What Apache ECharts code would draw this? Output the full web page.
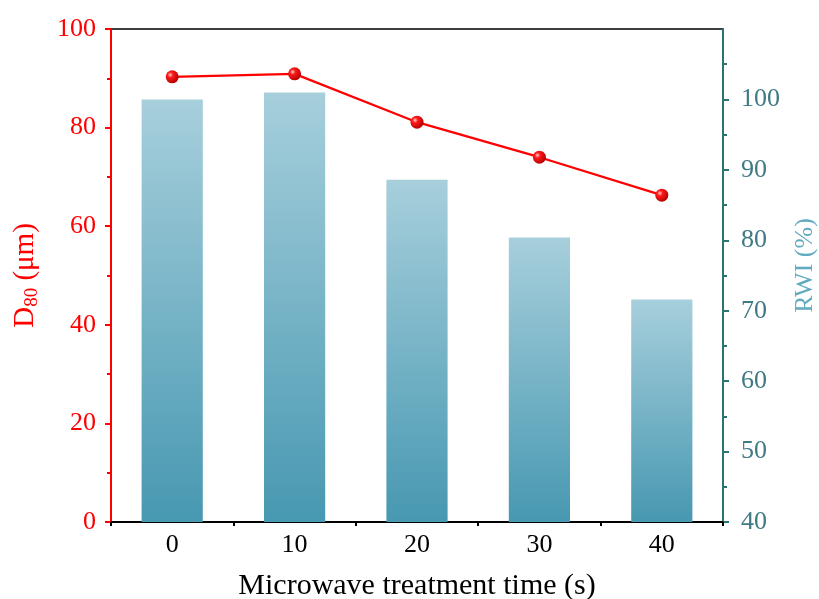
<!DOCTYPE html>
<html>
<head>
<meta charset="utf-8">
<script src="https://cdn.jsdelivr.net/npm/echarts@6/dist/echarts.min.js"></script>
<style>
  html, body { margin: 0; padding: 0; background: #fff; }
  #chart { width: 819px; height: 599px; }
</style>
</head>
<body>
<div id="chart"></div>
<script>
// Microwave treatment time (s)
const times = ['0', '10', '20', '30', '40'];
// D80 particle size (µm), left axis
const d80 = [90.3, 90.9, 81.1, 74.0, 66.3];
// Relative work index RWI (%), right axis
const rwi = [100.0, 101.0, 88.6, 80.4, 71.6];
// Tick labels
const leftTicks = [0, 20, 40, 60, 80, 100];
const rightTicks = [40, 50, 60, 70, 80, 90, 100];

const FONT = '"Liberation Serif", "Times New Roman", serif';
const RED = '#ff0000';
const TEAL_LINE = '#2c7373';
const TEAL_LABEL = '#3f7a85';
const TEAL_NAME = '#62aac0';

const chart = echarts.init(document.getElementById('chart'), null, { renderer: 'canvas' });

chart.setOption({
  backgroundColor: '#ffffff',
  animation: false,
  grid: {
    left: 111, right: 96, top: 29, bottom: 77,
    outerBoundsMode: 'none',
    containLabel: false,
    show: true, borderColor: '#000', borderWidth: 1.5, backgroundColor: 'transparent'
  },
  xAxis: [
    {
      type: 'category',
      data: times,
      position: 'bottom',
      name: 'Microwave treatment time (s)',
      nameLocation: 'middle',
      nameGap: 49,
      nameTextStyle: { fontFamily: FONT, fontSize: 30, color: '#000' },
      axisLine: { lineStyle: { color: '#000', width: 2 } },
      axisTick: { alignWithLabel: true, length: 6, lineStyle: { color: '#000', width: 2 } },
      axisLabel: { fontFamily: FONT, fontSize: 26, color: '#000', margin: 10 },
      splitLine: { show: false }
    },
    {
      // boundary ticks between categories
      type: 'category',
      data: times,
      position: 'bottom',
      axisLine: { show: false },
      axisTick: { show: true, alignWithLabel: false, length: 4, lineStyle: { color: '#000', width: 2 } },
      axisLabel: { show: false },
      splitLine: { show: false }
    }
  ],
  yAxis: [
    {
      type: 'value',
      min: 0, max: 100, interval: 20,
      position: 'left',
      name: 'D{sub|80} (μm)',
      nameLocation: 'middle',
      nameGap: 69,
      nameRotate: 90,
      nameTextStyle: {
        fontFamily: FONT, fontSize: 29, color: RED,
        rich: { sub: { fontFamily: FONT, fontSize: 19, color: RED, verticalAlign: 'bottom', padding: [14, 0, 0, 0] } }
      },
      axisLine: { show: true, lineStyle: { color: RED, width: 2 } },
      axisTick: { show: true, length: 6, lineStyle: { color: RED, width: 2 } },
      minorTick: { show: true, splitNumber: 2, length: 4, lineStyle: { color: RED, width: 2 } },
      axisLabel: { fontFamily: FONT, fontSize: 26, color: RED, margin: 15 },
      splitLine: { show: false }
    },
    {
      type: 'value',
      min: 40, max: 110, interval: 10,
      position: 'right',
      name: 'RWI (%)',
      nameLocation: 'middle',
      nameGap: 69,
      nameRotate: 90,
      nameTextStyle: { fontFamily: FONT, fontSize: 26, color: TEAL_NAME, padding: [0, 0, 0, 20] },
      axisLine: { show: true, lineStyle: { color: TEAL_LINE, width: 2 } },
      axisTick: { show: true, length: 6, customValues: rightTicks, lineStyle: { color: TEAL_LINE, width: 2 } },
      minorTick: { show: true, splitNumber: 2, length: 4, lineStyle: { color: TEAL_LINE, width: 2 } },
      axisLabel: { fontFamily: FONT, fontSize: 26, color: TEAL_LABEL, margin: 18, customValues: rightTicks },
      splitLine: { show: false }
    }
  ],
  series: [
    {
      type: 'bar',
      data: rwi,
      xAxisIndex: 0,
      yAxisIndex: 1,
      barWidth: '50%',
      itemStyle: {
        color: new echarts.graphic.LinearGradient(0, 0, 0, 1, [
          { offset: 0, color: '#a7cfdc' },
          { offset: 1, color: '#4798b1' }
        ])
      },
      z: 1
    },
    {
      type: 'line',
      data: d80,
      xAxisIndex: 0,
      yAxisIndex: 0,
      symbol: 'circle',
      symbolSize: 13,
      lineStyle: { color: RED, width: 2.2 },
      itemStyle: {
        color: new echarts.graphic.RadialGradient(0.35, 0.35, 0.7, [
          { offset: 0, color: '#ffd0d0' },
          { offset: 0.3, color: '#ff1a1a' },
          { offset: 1, color: '#b00000' }
        ]),
        borderWidth: 0
      },
      z: 5
    }
  ]
});
</script>
</body>
</html>
